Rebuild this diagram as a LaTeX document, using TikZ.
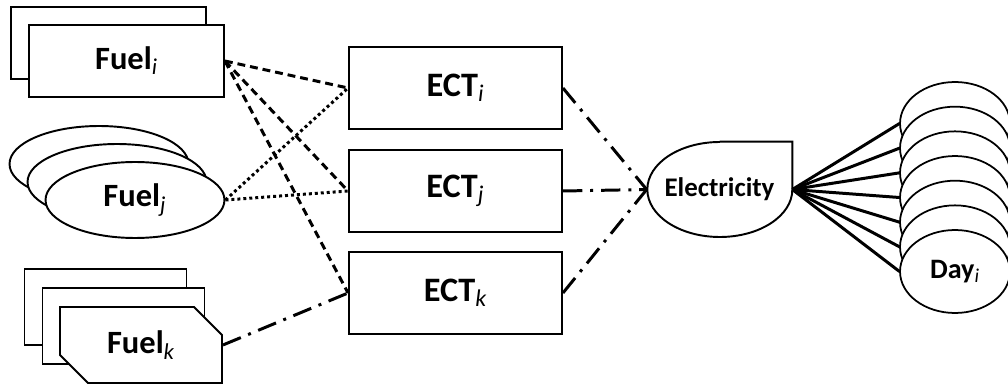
\documentclass[tikz,border=0pt]{standalone}
\usepackage{fontspec}
\setmainfont{Carlito}
\usetikzlibrary{shapes.geometric,shapes.misc}
\newcommand{\sub}[1]{\textsubscript{\normalfont\itshape #1}}
\begin{document}
\begin{tikzpicture}[
		x=0.02cm,y=0.02cm,
		fuelbox/.style={rectangle,draw,fill=white,line width=1.1pt,minimum width=3.9cm,minimum height=1.44cm,inner sep=0pt,font=\fontsize{18.5}{22}\selectfont\bfseries},
		fuelblob/.style={ellipse,draw,fill=white,line width=1.1pt,minimum width=3.58cm,minimum height=1.52cm,inner sep=0pt,font=\fontsize{18.5}{22}\selectfont\bfseries},
		fueltag/.style={chamfered rectangle,chamfered rectangle corners={north east,south west},chamfered rectangle sep=0.28cm,draw,fill=white,line width=1.1pt,minimum width=3.24cm,minimum height=1.52cm,inner sep=0pt,font=\fontsize{18.5}{22}\selectfont\bfseries},
		ectbox/.style={rectangle,draw,line width=1.1pt,minimum width=4.26cm,minimum height=1.64cm,inner sep=0pt,font=\fontsize{19.5}{23}\selectfont\bfseries},
		daydisc/.style={ellipse,draw,fill=white,line width=1pt,minimum width=2.2cm,minimum height=1.66cm,inner sep=0pt,font=\fontsize{16}{19}\selectfont\bfseries},
		link/.style={line width=1.7pt}
	]
	\useasboundingbox (0,0) rectangle (1008,-388);

	\node[fuelbox] (fi0) at (108.5,-43) {};
	\node[fuelbox] (fi) at (126.5,-61) {Fuel\sub{i}};

	\node[fuelblob] (fj0) at (99,-164) {};
	\node[fuelblob] (fj1) at (117,-182) {};
	\node[fuelblob] (fj) at (135,-200) {Fuel\sub{j}};

	\node[fueltag] (fk0) at (105.5,-307) {};
	\node[fueltag] (fk1) at (123.5,-326) {};
	\node[fueltag] (fk) at (141,-345) {Fuel\sub{k}};

	\node[ectbox] (ecti) at (455.5,-88) {ECT\sub{i}};
	\node[ectbox] (ectj) at (455.5,-191) {ECT\sub{j}};
	\node[ectbox] (ectk) at (455.5,-293) {ECT\sub{k}};

	\node[rectangle,minimum width=2.9cm,minimum height=1.9cm,inner sep=0pt,font=\fontsize{15.3}{18}\selectfont\bfseries] (elec) at (719.5,-189.5) {Electricity};
	\draw[line width=1.1pt] (elec.north) -- (elec.north east) -- (elec.east)
		arc[start angle=0,end angle=-270,x radius=72.5,y radius=47.5];

	\draw[link,dash pattern=on 4.5pt off 2.8pt] (fi.east) -- (ecti.west);
	\draw[link,dash pattern=on 4.5pt off 2.8pt] (fi.east) -- (ectj.west);
	\draw[link,dash pattern=on 4.5pt off 2.8pt] (fi.east) -- (ectk.west);
	\draw[link,dash pattern=on 1.7pt off 1.7pt] (fj.east) -- (ecti.west);
	\draw[link,dash pattern=on 1.7pt off 1.7pt] (fj.east) -- (ectj.west);
	\draw[link,dash pattern=on 11pt off 4.5pt on 1.7pt off 4.5pt] (fk.east) -- (ectk.west);

	\foreach \e in {ecti,ectj,ectk}
		\draw[link,dash pattern=on 11pt off 4.5pt on 1.7pt off 4.5pt] (\e.east) -- (elec.west);

	\foreach \k in {0,...,6}
		\draw[link] (elec.east) -- (899.5,{-123.5-24.67*\k});
	\foreach \k in {0,...,5}
		\node[daydisc] (day\k) at (955,{-123.5-24.67*\k}) {};
	\node[daydisc] (day) at (955,-271.5) {Day\sub{i}};
\end{tikzpicture}
\end{document}
